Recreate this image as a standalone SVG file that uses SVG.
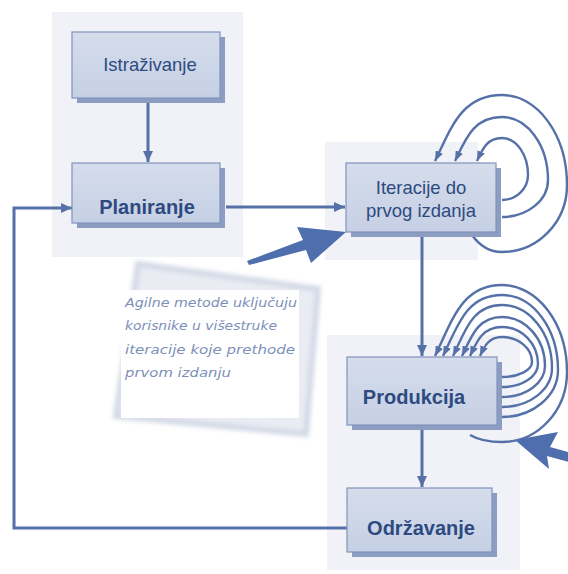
<svg xmlns="http://www.w3.org/2000/svg" width="568" height="574" viewBox="0 0 568 574">
<defs>
<linearGradient id="face" x1="0" y1="0" x2="0" y2="1">
<stop offset="0" stop-color="#d5ddec"/>
<stop offset="1" stop-color="#c6d0e4"/>
</linearGradient>
<filter id="blur" x="-10%" y="-10%" width="120%" height="120%"><feGaussianBlur stdDeviation="2"/></filter>
<marker id="ah" markerUnits="userSpaceOnUse" markerWidth="11" markerHeight="10" refX="11" refY="5" orient="auto"><path d="M0,0 L11,5 L0,10 z" fill="#5571a8"/></marker>
<marker id="ahs" markerUnits="userSpaceOnUse" markerWidth="10" markerHeight="8" refX="10" refY="4" orient="auto"><path d="M0,0 L10,4 L0,8 z" fill="#5571a8"/></marker>
</defs>
<style>
.panel{fill:#f0f2f8}
.shadow{fill:#8d9dc2}
.face{fill:url(#face);stroke:#8193bb;stroke-width:1.2}
.lbl{font-family:"Liberation Sans",Arial,sans-serif;fill:#2d4a80;text-anchor:middle}
.b{font-weight:bold;font-size:20px}
.r{font-size:18.5px}
.con{fill:none;stroke:#5571a8;stroke-width:3}
.loop{fill:none;stroke:#5571a8;stroke-width:2.4}
.big{fill:#4f6eae}
.note{font-family:"DejaVu Sans",sans-serif;font-style:italic;font-size:13px;fill:#7d8fb8}
</style>
<rect width="568" height="574" fill="#ffffff"/>
<g id="panels">
<rect class="panel" x="52" y="12" width="191" height="245"/>
<rect class="panel" x="325" y="142" width="153" height="118"/>
<rect class="panel" x="327" y="335" width="193" height="235"/>
</g>
<g id="note">
<polygon points="138,264 318,289 306,434 116,416" fill="#e9ecf3" stroke="#d3d9e6" stroke-width="6" filter="url(#blur)"/>
<rect x="121" y="290" width="178" height="128" fill="#ffffff"/>
<text class="note" x="125" y="307" textLength="172" lengthAdjust="spacingAndGlyphs">Agilne metode uključuju</text>
<text class="note" x="125" y="330" textLength="152" lengthAdjust="spacingAndGlyphs">korisnike u višestruke</text>
<text class="note" x="125" y="354" textLength="170" lengthAdjust="spacingAndGlyphs">iteracije koje prethode</text>
<text class="note" x="125" y="377" textLength="106" lengthAdjust="spacingAndGlyphs">prvom izdanju</text>
</g>
<g id="connectors">
<path class="con" d="M148,103 V162" marker-end="url(#ah)"/>
<path class="con" d="M226,207 H345" marker-end="url(#ah)"/>
<path class="con" d="M422,237 V356" marker-end="url(#ah)"/>
<path class="con" d="M422,430 V487" marker-end="url(#ah)"/>
<path class="con" d="M347,528 H14 V208 H72" marker-end="url(#ah)"/>
<path class="loop" d="M502,200 A26,25 0 0 0 528,175 A26,37 0 0 0 502,138 C487,138 482.5,149 477,161" marker-end="url(#ahs)"/>
<path class="loop" d="M502,217 A46,37 0 0 0 548,180 A46,63 0 0 0 502,117 C473.8,117 465.8,138.5 455,161" marker-end="url(#ahs)"/>
<path class="loop" d="M472,235 Q484,252 502,252 A65,67 0 0 0 567,185 A65,90 0 0 0 502,95 C461.8,95 451.3,127.5 435,161" marker-end="url(#ahs)"/>
<path class="loop" d="M502,377 A30,15 0 0 0 532,362 A30,25 0 0 0 502,337 C488.8,337 484.5,346 480,356" marker-end="url(#ahs)"/>
<path class="loop" d="M502,387 A36,23 0 0 0 538,364 A36,37 0 0 0 502,327 C482.8,327 477,341 470,356" marker-end="url(#ahs)"/>
<path class="loop" d="M502,397 A43,31 0 0 0 545,366 A43,49 0 0 0 502,317 C478,317 471.5,336 462,356" marker-end="url(#ahs)"/>
<path class="loop" d="M502,407 A50,39 0 0 0 552,368 A50,63 0 0 0 502,305 C472.6,305 465.5,330 453,356" marker-end="url(#ahs)"/>
<path class="loop" d="M502,417 A56,47 0 0 0 558,370 A56,75 0 0 0 502,295 C466.6,295 458,325 443,356" marker-end="url(#ahs)"/>
<path class="loop" d="M470,435 Q482,442 502,442 A65,70 0 0 0 567,372 A65,87 0 0 0 502,285 C461.8,285 452.5,320 435,356" marker-end="url(#ahs)"/>
<polygon class="big" points="247,261 303,240 297,227 346,232 311,263 306,250 249,265"/>
<polygon class="big" points="515,440 558,432 550,447 575,454 573,463 547,456 549,469"/>
</g>
<g id="istrazivanje">
<rect class="shadow" x="77" y="37" width="148" height="66"/>
<rect class="face" x="72" y="32" width="148" height="66"/>
<text class="lbl r" x="150" y="71">Istraživanje</text>
</g>
<g id="planiranje">
<rect class="shadow" x="77" y="168" width="148" height="60"/>
<rect class="face" x="72" y="163" width="148" height="60"/>
<text class="lbl b" x="147" y="214">Planiranje</text>
</g>
<g id="iteracije">
<rect class="shadow" x="351" y="168" width="150" height="69"/>
<rect class="face" x="346" y="163" width="150" height="69"/>
<text class="lbl r" x="421" y="194">Iteracije do</text>
<text class="lbl r" x="421" y="217">prvog izdanja</text>
</g>
<g id="produkcija">
<rect class="shadow" x="352" y="362" width="150" height="68"/>
<rect class="face" x="347" y="357" width="150" height="68"/>
<text class="lbl b" x="414" y="404">Produkcija</text>
</g>
<g id="odrzavanje">
<rect class="shadow" x="352" y="493" width="145" height="64"/>
<rect class="face" x="347" y="488" width="145" height="64"/>
<text class="lbl b" x="421" y="535">Održavanje</text>
</g>
</svg>
